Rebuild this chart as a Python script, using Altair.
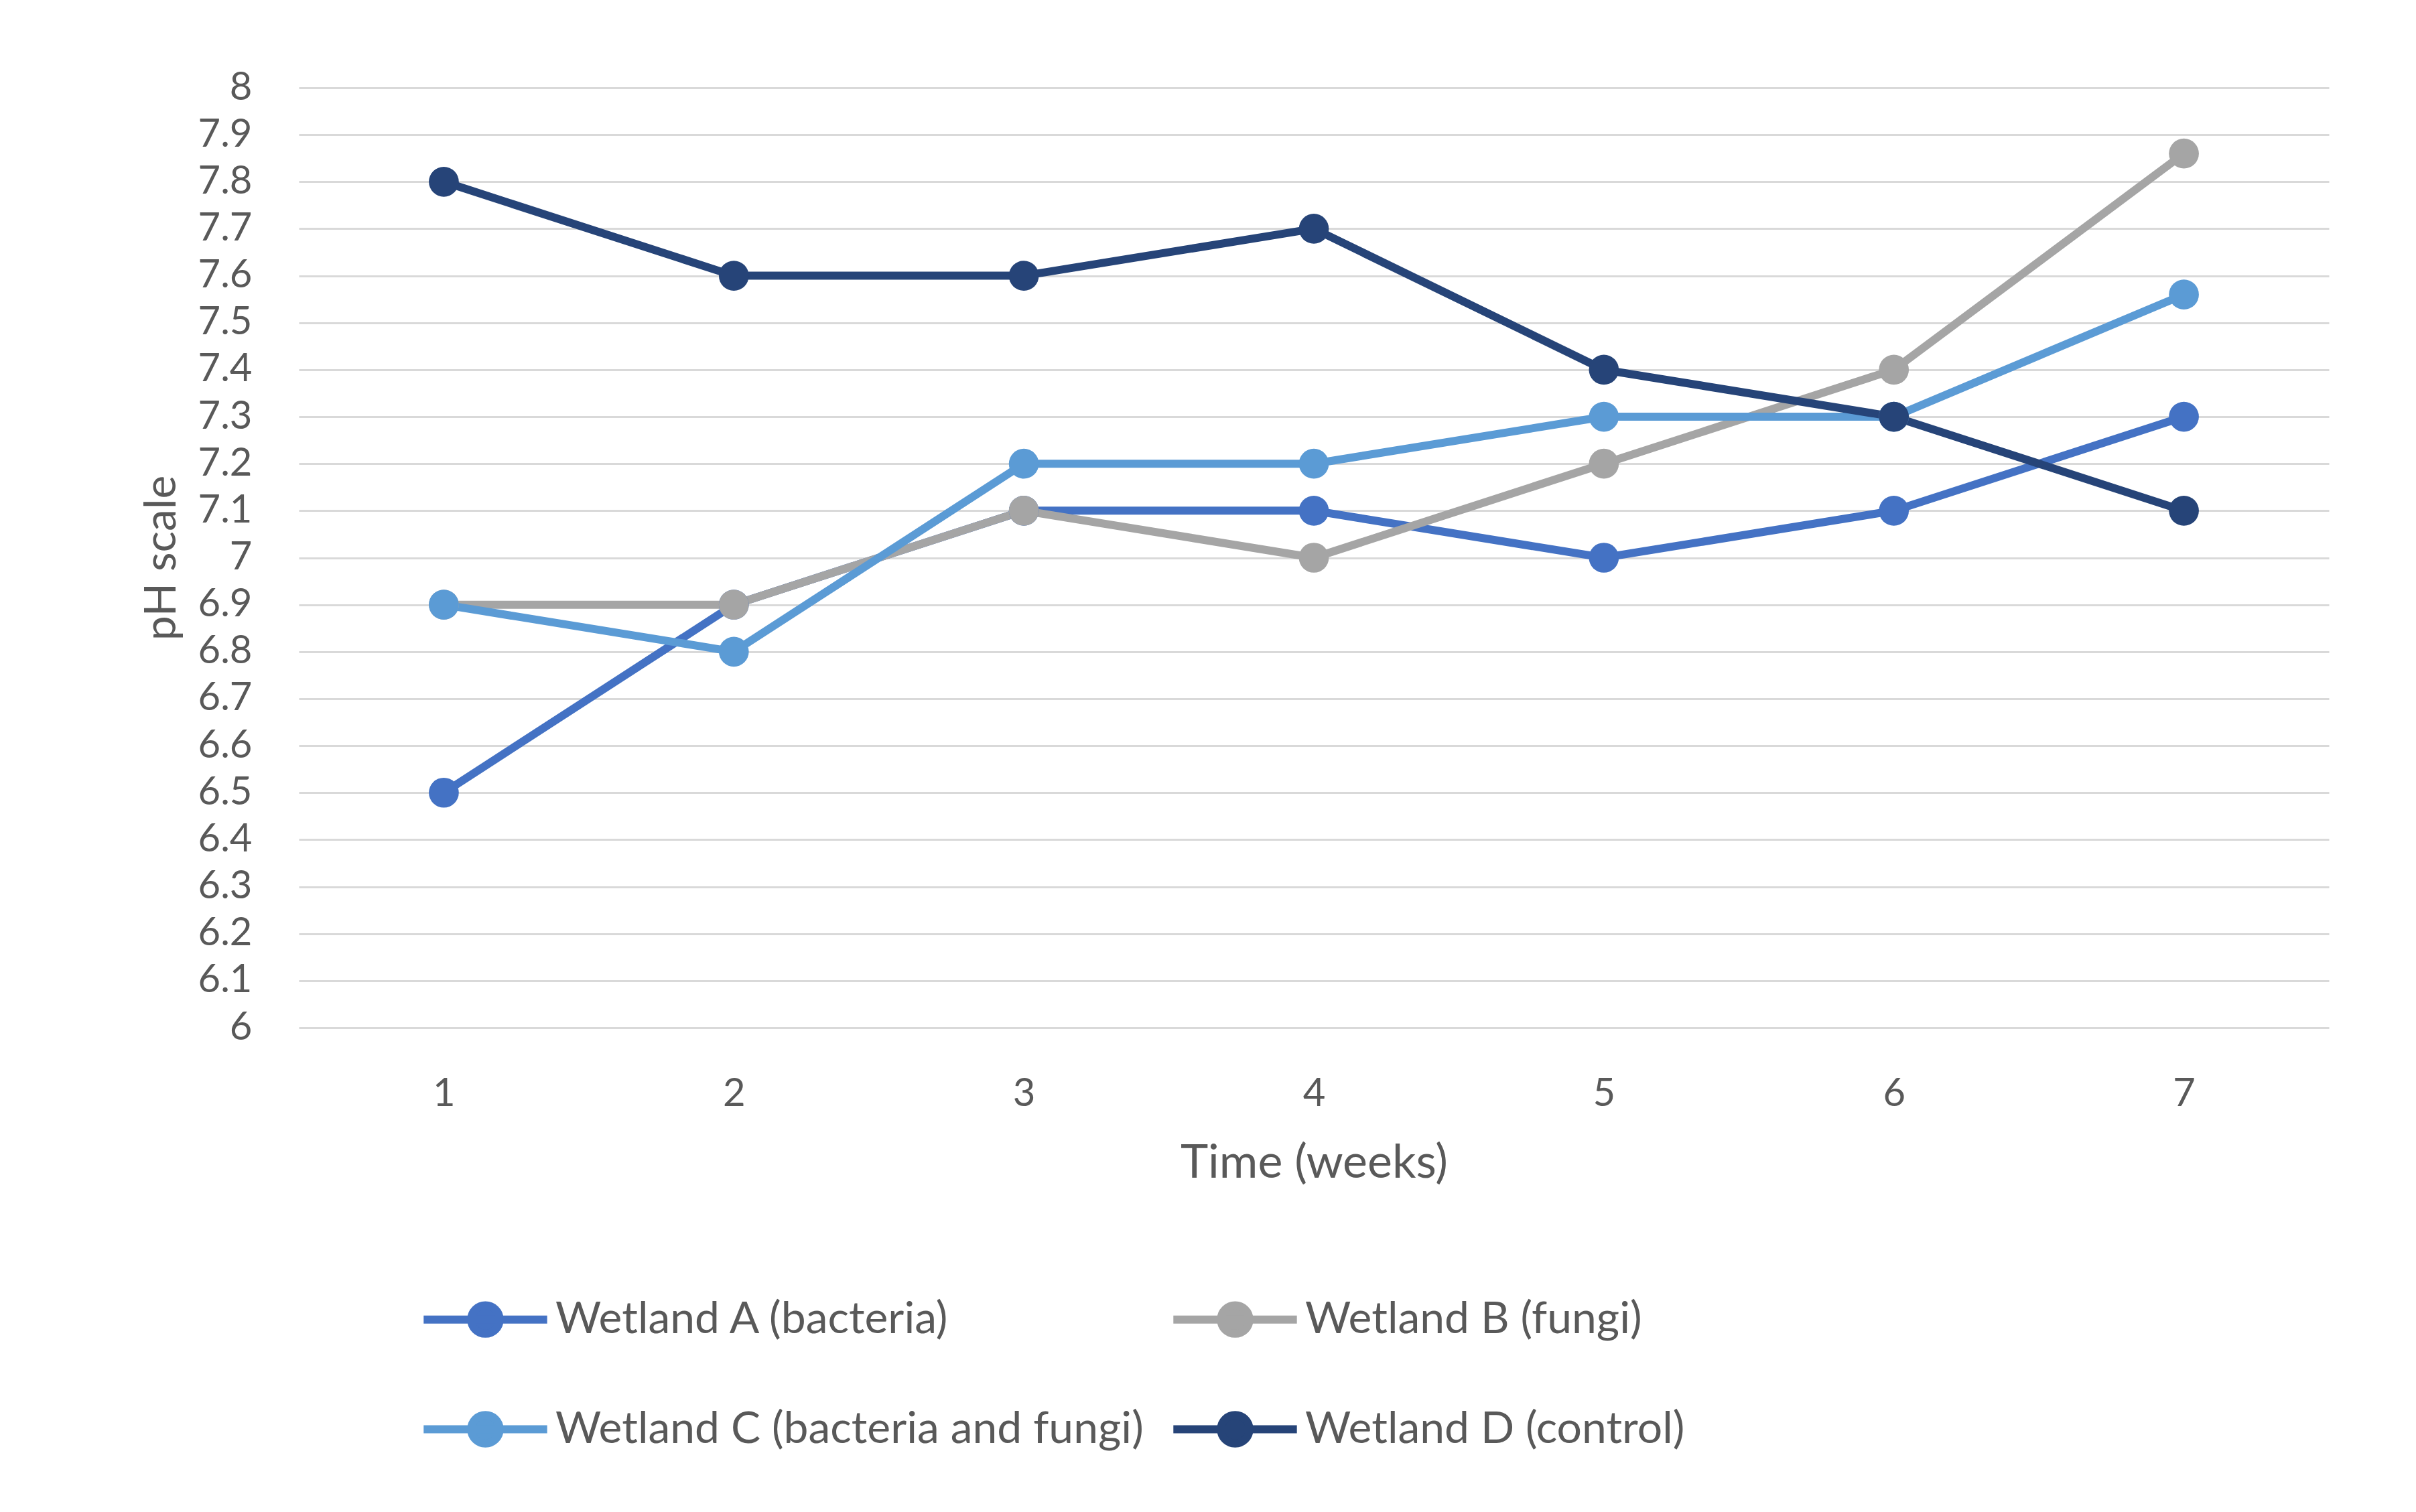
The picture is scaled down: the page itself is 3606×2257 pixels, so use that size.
import altair as alt
import pandas as pd

weeks = [1, 2, 3, 4, 5, 6, 7]
series = ["Wetland A (bacteria)", "Wetland B (fungi)", "Wetland C (bacteria and fungi)", "Wetland D (control)"]
wet_a = [6.5, 6.9, 7.1, 7.1, 7.0, 7.1, 7.3]
wet_b = [6.9, 6.9, 7.1, 7.0, 7.2, 7.4, 7.86]
wet_c = [6.9, 6.8, 7.2, 7.2, 7.3, 7.3, 7.56]
wet_d = [7.8, 7.6, 7.6, 7.7, 7.4, 7.3, 7.1]
colors = ["#4472C4", "#A5A5A5", "#5B9BD5", "#264478"]
yticks = [round(6 + i * 0.1, 1) for i in range(21)]

rows = []
for name, vals in zip(series, [wet_a, wet_b, wet_c, wet_d]):
    for w, v in zip(weeks, vals):
        rows.append({"week": w, "ph": v, "series": name})
df = pd.DataFrame(rows)

# legend grid fills column-wise, so order A, C, B, D gives rows (A, B), (C, D)
legend_order = [series[0], series[2], series[1], series[3]]
legend_colors = [colors[0], colors[2], colors[1], colors[3]]

font = "Lato"
gray = "#595959"
x = alt.X("week:O", title="Time (weeks)",
          scale=alt.Scale(type="point", padding=0.5),
          axis=alt.Axis(labelAngle=0, ticks=False, domain=False, labelFontSize=58,
                        labelPadding=70, titleFontSize=70, titlePadding=40,
                        labelColor=gray, titleColor=gray, titleFontWeight="normal"))
y = alt.Y("ph:Q", title="pH scale",
          scale=alt.Scale(domain=[6, 8], nice=False),
          axis=alt.Axis(values=yticks, format="~g", ticks=False, domain=False,
                        labelFontSize=58, labelPadding=70, titleFontSize=66,
                        titlePadding=20, labelColor=gray, titleColor=gray,
                        gridColor="#D9D9D9", gridWidth=3, titleFontWeight="normal",
                        labelAlign="right"))
color = alt.Color("series:N", scale=alt.Scale(domain=legend_order, range=legend_colors),
                  legend=alt.Legend(title=None, orient="none", legendX=180, legendY=1740,
                                    columns=2, columnPadding=20, rowPadding=20,
                                    symbolType="M -1 0 L 1 0 M 0.23 0 A 0.23 0.23 0 1 1 -0.23 0 A 0.23 0.23 0 1 1 0.23 0 Z",
                                    symbolSize=34000, symbolStrokeWidth=12,
                                    labelFontSize=66, labelColor=gray, labelFont=font,
                                    labelOffset=6, labelLimit=2000))

lines = alt.Chart(df).mark_line(strokeWidth=12).encode(x=x, y=y, color=color)
points = alt.Chart(df).mark_circle(size=2000, opacity=1).encode(x=x, y=y, color=color)

chart = (lines + points).properties(width=3030, height=1403, padding={"left": 200, "top": 94, "right": 90, "bottom": 20}).configure(
    font=font).configure_view(stroke=None).configure_axis(labelFont=font, titleFont=font)

chart.save("out.html", embed_options={"renderer": "svg", "actions": False})
